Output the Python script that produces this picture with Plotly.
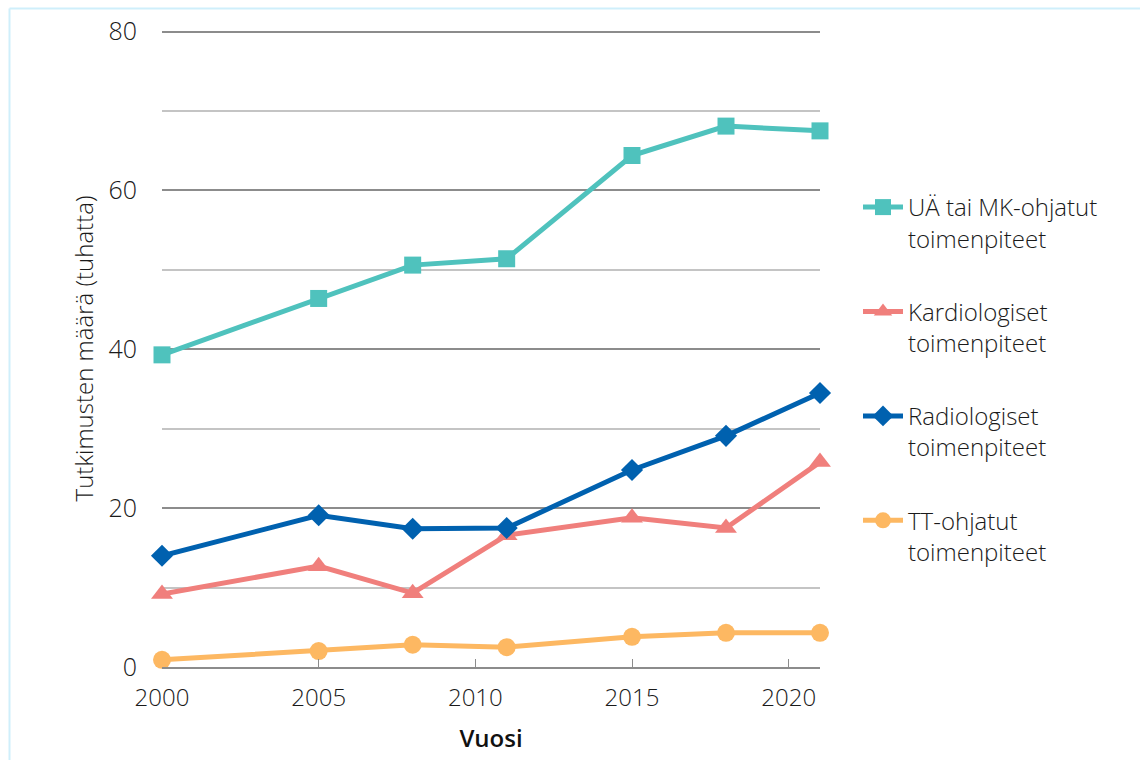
import plotly.graph_objects as go

years = [2000, 2005, 2008, 2011, 2015, 2018, 2021]
ua_mk = [39.3, 46.4, 50.6, 51.4, 64.4, 68.1, 67.5]
kardio = [9.2, 12.7, 9.3, 16.6, 18.8, 17.5, 25.8]
radio = [14.0, 19.1, 17.4, 17.5, 24.8, 29.1, 34.5]
tt = [0.9, 2.0, 2.8, 2.5, 3.8, 4.3, 4.3]

names = ["UÄ tai MK-ohjatut<br>toimenpiteet", "Kardiologiset<br>toimenpiteet",
         "Radiologiset<br>toimenpiteet", "TT-ohjatut<br>toimenpiteet"]
series = [ua_mk, kardio, radio, tt]
colors = ["#4FC2BD", "#F07F7C", "#0061AF", "#FDB862"]
symbols = ["square", "triangle-up", "diamond", "circle"]
sizes = [17, 19, 17, 18]

FONT = "Open Sans"
TXT = "#1A1A1A"
fig = go.Figure()
for i, (n, s) in enumerate(zip(names, series)):
    fig.add_trace(go.Scatter(
        x=years, y=s, name=n, mode="lines+markers", legendgroup=str(i),
        line=dict(color=colors[i], width=5), cliponaxis=False,
        marker=dict(symbol=symbols[i], size=sizes[i], color=colors[i]),
    ))

L, R, T, B = 162, 320, 30, 93
W, H = 1140, 760
pw, ph = W - L - R, H - T - B

def px_x(p):
    return (p - L) / pw

def px_y(p):
    return (H - B - p) / ph

fig.add_shape(type="line", xref="paper", yref="paper",
              x0=px_x(9.5), x1=px_x(1200), y0=px_y(8.5), y1=px_y(8.5),
              line=dict(color="#CFEFFB", width=2))
fig.add_shape(type="line", xref="paper", yref="paper",
              x0=px_x(9.5), x1=px_x(9.5), y0=px_y(8.5), y1=px_y(800),
              line=dict(color="#CFEFFB", width=2))

fig.update_layout(
    width=W, height=H,
    margin=dict(l=L, r=R, t=T, b=B),
    paper_bgcolor="white", plot_bgcolor="white",
    font=dict(family=FONT, color=TXT, size=20, weight=300),
    legend=dict(x=px_x(858), y=px_y(185), xanchor="left", yanchor="top",
                font=dict(size=24, family=FONT, color=TXT, weight=300),
                valign="top", tracegroupgap=39, itemwidth=40,
                bgcolor="rgba(0,0,0,0)"),
    showlegend=True,
)
fig.update_xaxes(
    range=[2000, 2021], tickvals=[2000, 2005, 2010, 2015, 2020],
    showgrid=False, zeroline=False, showline=True, linecolor="#8C8C8C", linewidth=2,
    ticks="inside", ticklen=8, tickcolor="#8C8C8C", tickwidth=1,
    tickfont=dict(size=24, family=FONT, color=TXT, weight=300), ticklabelstandoff=8,
    title=dict(text="Vuosi", font=dict(size=24, family=FONT, color="#111111", weight=600), standoff=18),
)
fig.update_yaxes(
    range=[0, 80.2], tickvals=[0, 20, 40, 60, 80],
    showgrid=True, gridcolor="#8C8C8C", gridwidth=2, zeroline=False, showline=False,
    minor=dict(dtick=10, showgrid=True, gridcolor="#C4C4C4", gridwidth=2),
    tickfont=dict(size=25, family=FONT, color=TXT, weight=300), ticklabelstandoff=24,
    title=dict(text="Tutkimusten määrä (tuhatta)", font=dict(size=24, family=FONT, color=TXT, weight=300), standoff=8),
)

fig.write_html("out.html")
